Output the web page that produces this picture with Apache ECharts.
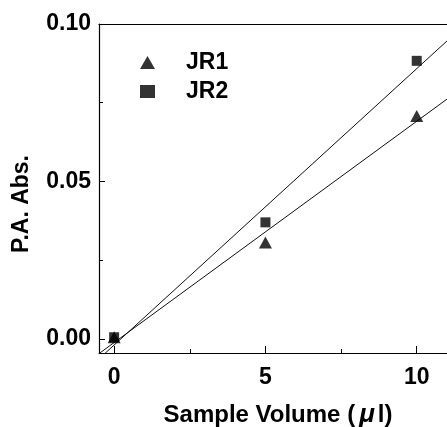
<!DOCTYPE html>
<html>
<head>
<meta charset="utf-8">
<script src="https://cdn.jsdelivr.net/npm/echarts@6/dist/echarts.min.js"></script>
<style>
  html, body { margin: 0; padding: 0; background: #fff; }
  #chart { width: 447px; height: 427px; }
</style>
</head>
<body>
<div id="chart"></div>
<script>
// Sample volumes (µl) and measured absorbance for each sample
const volumes = [0, 5, 10];
const jr1 = [0.0005, 0.0306, 0.0708];
const jr2 = [0.0005, 0.0370, 0.0883];

const xTicks = [0, 5, 10];
const xMinorTicks = [2.5, 7.5];
const yTicks = [0, 0.05, 0.10];
const yMinorTicks = [0.025, 0.075];

const X_MIN = -0.5, X_MAX = 11;
const Y_MIN = -0.0045, Y_MAX = 0.10;

// Least-squares straight line through a set of points
function linearFit(xs, ys) {
  const n = xs.length;
  const mx = xs.reduce((a, b) => a + b, 0) / n;
  const my = ys.reduce((a, b) => a + b, 0) / n;
  let sxy = 0, sxx = 0;
  for (let i = 0; i < n; i++) {
    sxy += (xs[i] - mx) * (ys[i] - my);
    sxx += (xs[i] - mx) * (xs[i] - mx);
  }
  const slope = sxy / sxx;
  const icpt = my - slope * mx;
  return [[X_MIN, icpt + slope * X_MIN], [X_MAX, icpt + slope * X_MAX]];
}

const FONT = '"Liberation Sans", "Noto Sans CJK JP", sans-serif';
const chart = echarts.init(document.getElementById('chart'));

// Axes that only carry extra tick marks
function tickOnlyAxis(type, position, values, length) {
  return {
    type: 'value',
    position: position,
    min: type === 'x' ? X_MIN : Y_MIN,
    max: type === 'x' ? X_MAX : Y_MAX,
    axisLine: { show: false, onZero: false },
    axisLabel: { show: false },
    splitLine: { show: false },
    axisTick: { show: true, inside: true, length: length, customValues: values, lineStyle: { color: '#000', width: 1 } }
  };
}

chart.setOption({
  animation: false,
  backgroundColor: '#fff',
  grid: { left: 99, top: 24, right: -6, bottom: 74, containLabel: false },
  legend: {
    data: ['JR1', 'JR2'],
    orient: 'vertical',
    left: 135,
    top: 46,
    padding: 5,
    itemWidth: 15,
    itemHeight: 13,
    itemGap: 6,
    textStyle: { fontFamily: FONT, fontWeight: 'bold', fontSize: 23, color: '#000', lineHeight: 20, padding: [0, 0, 0, 26] }
  },
  xAxis: [
    {
      type: 'value', min: X_MIN, max: X_MAX, position: 'bottom',
      axisLine: { show: true, onZero: false, lineStyle: { color: '#000', width: 1.2 } },
      axisTick: { show: false },
      axisLabel: { show: true, customValues: xTicks, margin: 13, fontFamily: FONT, fontWeight: 'bold', fontSize: 23, color: '#000' },
      splitLine: { show: false }
    },
    tickOnlyAxis('x', 'bottom', xTicks, 7),
    tickOnlyAxis('x', 'bottom', xMinorTicks, 4),
    {
      type: 'value', min: X_MIN, max: X_MAX, position: 'top',
      axisLine: { show: true, onZero: false, lineStyle: { color: '#000', width: 1.2 } },
      axisTick: { show: false }, axisLabel: { show: false }, splitLine: { show: false }
    }
  ],
  yAxis: [
    {
      type: 'value', min: Y_MIN, max: Y_MAX, position: 'left',
      axisLine: { show: true, onZero: false, lineStyle: { color: '#000', width: 1.2 } },
      axisTick: { show: false },
      axisLabel: {
        show: true, customValues: yTicks, margin: 8,
        fontFamily: FONT, fontWeight: 'bold', fontSize: 23, color: '#000',
        formatter: v => v.toFixed(2)
      },
      splitLine: { show: false }
    },
    tickOnlyAxis('y', 'left', yTicks, 6),
    tickOnlyAxis('y', 'left', yMinorTicks, 4)
  ],
  graphic: [
    {
      type: 'text', x: 278, y: 415,
      style: {
        text: '{a|Sample Volume (}{m|μ}{a|l)}',
        align: 'center', verticalAlign: 'middle',
        rich: {
          a: { fontFamily: FONT, fontWeight: 'bold', fontSize: 24, fill: '#000', color: '#000' },
          m: { fontFamily: FONT, fontWeight: 'bold', fontStyle: 'italic', fontSize: 26, fill: '#000', color: '#000', padding: [0, 3, 0, 4] }
        }
      }
    },
    {
      type: 'text', x: 22, y: 204, rotation: Math.PI / 2,
      style: {
        text: 'P.A. Abs.', fill: '#000',
        font: 'bold 23px ' + FONT, align: 'center', verticalAlign: 'middle'
      }
    }
  ],
  series: [
    {
      name: 'JR1 fit', type: 'line', xAxisIndex: 0, yAxisIndex: 0,
      data: linearFit(volumes, jr1), showSymbol: false, symbol: 'none', clip: true,
      lineStyle: { color: '#111', width: 1 }, z: 2, silent: true
    },
    {
      name: 'JR2 fit', type: 'line', xAxisIndex: 0, yAxisIndex: 0,
      data: linearFit(volumes, jr2), showSymbol: false, symbol: 'none', clip: true,
      lineStyle: { color: '#111', width: 1 }, z: 2, silent: true
    },
    {
      name: 'JR1', type: 'scatter', xAxisIndex: 0, yAxisIndex: 0,
      data: volumes.map((v, i) => [v, jr1[i]]),
      symbol: 'triangle', symbolSize: [13, 12],
      itemStyle: { color: '#000' }, z: 3
    },
    {
      name: 'JR2', type: 'scatter', xAxisIndex: 0, yAxisIndex: 0,
      data: volumes.map((v, i) => [v, jr2[i]]),
      symbol: 'rect', symbolSize: 10,
      itemStyle: { color: '#000' }, z: 3
    }
  ]
});
</script>
</body>
</html>
